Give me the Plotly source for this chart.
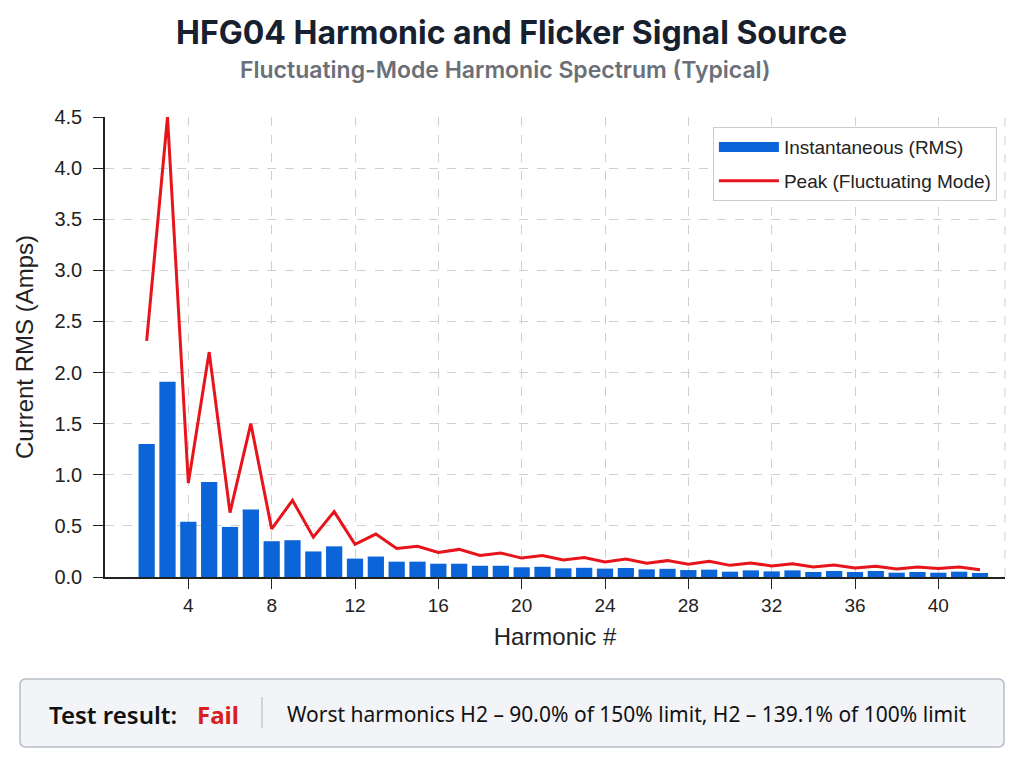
import plotly.graph_objects as go

# Harmonic spectrum values
harmonics = list(range(2, 43))
rms_current = [1.30, 1.91, 0.54, 0.93, 0.49, 0.66, 0.35, 0.36, 0.25, 0.30,
               0.18, 0.20, 0.15, 0.15, 0.13, 0.13, 0.11, 0.11, 0.095, 0.10,
               0.085, 0.09, 0.082, 0.088, 0.075, 0.08, 0.068, 0.072, 0.052, 0.065,
               0.055, 0.065, 0.049, 0.059, 0.049, 0.059, 0.042, 0.049, 0.042, 0.052,
               0.039]
peak_current = [2.31, 4.50, 0.92, 2.20, 0.63, 1.50, 0.47, 0.75, 0.39, 0.64,
                0.32, 0.42, 0.28, 0.30, 0.24, 0.27, 0.21, 0.235, 0.185, 0.21,
                0.166, 0.19, 0.147, 0.175, 0.134, 0.16, 0.124, 0.153, 0.114, 0.137,
                0.108, 0.13, 0.098, 0.117, 0.088, 0.104, 0.078, 0.098, 0.082, 0.098,
                0.072]
x_ticks = [4, 8, 12, 16, 20, 24, 28, 32, 36, 40]
y_ticks = [0.0, 0.5, 1.0, 1.5, 2.0, 2.5, 3.0, 3.5, 4.0, 4.5]

font = "Liberation Sans, Arial, sans-serif"
head_font = "Inter, Noto Sans, sans-serif"
box_font = "Noto Sans, Open Sans, sans-serif"
bar_color = "#0b65d8"
line_color = "#e8141c"

fig = go.Figure()
fig.add_trace(go.Bar(
    x=harmonics, y=rms_current, name="Instantaneous (RMS)",
    marker=dict(color=bar_color, line=dict(width=0)), width=0.78,
    showlegend=False, legendgroup="rms",
))
# legend entry for the bars drawn as a wide block, like the original
fig.add_trace(go.Scatter(
    x=[None], y=[None], name="Instantaneous (RMS)", mode="lines",
    line=dict(color=bar_color, width=14), legendgroup="rms",
))
fig.add_trace(go.Scatter(
    x=harmonics, y=peak_current, name="Peak (Fluctuating Mode)",
    mode="lines", line=dict(color=line_color, width=3), cliponaxis=False,
    legendgroup="peak",
))

grid = dict(showgrid=True, gridcolor="#d0d0d0", griddash="dash", gridwidth=1)

fig.update_xaxes(
    range=[0, 43.2], tickvals=x_ticks, ticks="outside", ticklen=10,
    tickcolor="#222", showline=True, linecolor="#222", linewidth=1.5,
    tickfont=dict(size=19, color="#222"), zeroline=False,
    title=dict(text="Harmonic #", font=dict(size=24, color="#222"), standoff=14),
    **grid,
)
fig.update_yaxes(
    range=[0, 4.5], tickvals=y_ticks, tickformat=".1f", ticks="outside",
    ticklen=10, tickcolor="#222", showline=True, linecolor="#222", linewidth=1.5,
    tickfont=dict(size=20, color="#222"), zeroline=False, ticklabelstandoff=7,
    title=dict(text="Current RMS (Amps)", font=dict(size=24, color="#222"), standoff=14),
    **grid,
)

# dashed right border of the plot area
fig.add_shape(type="line", xref="paper", yref="paper", x0=1, x1=1, y0=0, y1=1,
              line=dict(color="#d0d0d0", width=1, dash="dash"))

# title and subtitle
fig.add_annotation(text="HFG04 Harmonic and Flicker Signal Source",
                   xref="paper", yref="paper", x=0.452, y=1.183, yanchor="middle",
                   showarrow=False,
                   font=dict(size=32, color="#17202e", family=head_font, weight=700))
fig.add_annotation(text="Fluctuating-Mode Harmonic Spectrum (Typical)",
                   xref="paper", yref="paper", x=0.445, y=1.102, yanchor="middle",
                   showarrow=False,
                   font=dict(size=23, color="#6b7078", family=head_font, weight=600))

# result box under the chart
w, h = 900.0, 460.0
x0, x1 = -85 / w, 899 / w
y0, y1 = -170 / h, -102 / h
rx, ry = 6 / w, 6 / h
box = (f"M {x0 + rx},{y1} L {x1 - rx},{y1} Q {x1},{y1} {x1},{y1 - ry} "
       f"L {x1},{y0 + ry} Q {x1},{y0} {x1 - rx},{y0} L {x0 + rx},{y0} "
       f"Q {x0},{y0} {x0},{y0 + ry} L {x0},{y1 - ry} Q {x0},{y1} {x0 + rx},{y1} Z")
fig.add_shape(type="path", xref="paper", yref="paper", path=box,
              fillcolor="#f2f4f8", line=dict(color="#b6bcc6", width=1.5))
fig.add_shape(type="line", xref="paper", yref="paper",
              x0=157 / w, x1=157 / w, y0=-151 / h, y1=-120 / h,
              line=dict(color="#b0b0b0", width=1))
fig.add_annotation(text="Test result:", xref="paper", yref="paper",
                   x=-58 / w, y=-137 / h, xanchor="left", yanchor="middle",
                   showarrow=False,
                   font=dict(size=24, color="#111", family=box_font, weight=600))
fig.add_annotation(text="Fail", xref="paper", yref="paper",
                   x=90 / w, y=-137 / h, xanchor="left", yanchor="middle",
                   showarrow=False,
                   font=dict(size=24, color="#d81e1e", family=box_font, weight=700))
fig.add_annotation(text="Worst harmonics H2 \u2013 90.0% of 150% limit, H2 \u2013 139.1% of 100% limit",
                   xref="paper", yref="paper", x=180 / w, y=-137 / h,
                   xanchor="left", yanchor="middle", showarrow=False,
                   font=dict(size=21, color="#111", family=box_font))

# page body has an 8px margin, so the figure is sized to fit inside it
fig.update_layout(
    width=1008, height=752,
    margin=dict(l=97, r=11, t=109, b=183),
    plot_bgcolor="white", paper_bgcolor="white",
    font=dict(family=font, color="#222"),
    bargap=0.2,
    legend=dict(x=0.991, y=0.978, xanchor="right", yanchor="top",
                bgcolor="white", bordercolor="#cccccc", borderwidth=1,
                font=dict(size=19, color="#222"), itemwidth=60,
                traceorder="grouped", tracegroupgap=6),
    showlegend=True,
)

fig.write_html("out.html")
